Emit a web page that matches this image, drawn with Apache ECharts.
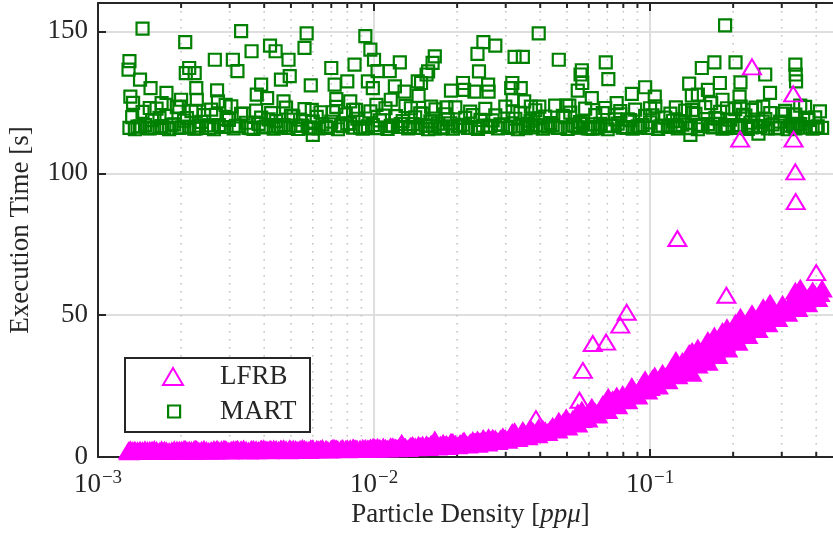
<!DOCTYPE html>
<html>
<head>
<meta charset="utf-8">
<script src="https://cdn.jsdelivr.net/npm/echarts@6/dist/echarts.min.js"></script>
<style>
  html, body { margin: 0; padding: 0; background: #fff; }
  #main { width: 833px; height: 533px; }
</style>
</head>
<body>
<div id="main"></div>
<script>
// regular density sweep (both methods run at these densities)
var densityA = [
  0.0013, 0.00136, 0.00142, 0.00148, 0.00154, 0.0016, 0.00167, 0.00174, 0.00181, 0.00189,
  0.00197, 0.00205, 0.00214, 0.00223, 0.00232, 0.00242, 0.00252, 0.00263, 0.00274, 0.00286,
  0.00298, 0.0031, 0.00323, 0.00337, 0.00351, 0.00366, 0.00382, 0.00398, 0.00415, 0.00433,
  0.00451, 0.0047, 0.0049, 0.0051, 0.0053, 0.0055, 0.0058, 0.006, 0.0063, 0.0065,
  0.0068, 0.0071, 0.0074, 0.0077, 0.008, 0.0084, 0.0087, 0.0091, 0.0095, 0.0099,
  0.0103, 0.0108, 0.0112, 0.0117, 0.0122, 0.0127, 0.0133, 0.0138, 0.0144, 0.015,
  0.0157, 0.0163, 0.017, 0.0178, 0.0185, 0.0193, 0.0201, 0.021, 0.0219, 0.0228,
  0.0238, 0.0248, 0.0258, 0.0269, 0.0281, 0.0293, 0.0305, 0.0318, 0.0332, 0.0346,
  0.0361, 0.0376, 0.0392, 0.0409, 0.0426, 0.0444, 0.0463, 0.0483, 0.0503, 0.0525,
  0.0547, 0.057, 0.0595, 0.062, 0.0646, 0.0674, 0.0702, 0.0732, 0.0763, 0.0796,
  0.083, 0.0865, 0.0902, 0.094, 0.098, 0.102, 0.107, 0.111, 0.116, 0.121,
  0.126, 0.131, 0.137, 0.143, 0.149, 0.155, 0.162, 0.169, 0.176, 0.183,
  0.191, 0.199, 0.208, 0.217, 0.226, 0.236, 0.246, 0.256, 0.267, 0.278,
  0.29, 0.302, 0.315, 0.329, 0.343, 0.357, 0.372, 0.388, 0.405, 0.42
];
var lfrbA = [
  2.0, 2.4, 1.9, 2.5, 2.1, 2.6, 2.0, 2.4, 1.9, 2.5,
  2.2, 2.7, 2.0, 2.6, 2.1, 2.7, 2.0, 2.6, 2.2, 2.8,
  2.1, 2.6, 2.3, 2.8, 2.1, 2.7, 2.3, 2.9, 2.2, 2.8,
  2.4, 2.9, 2.2, 2.8, 2.4, 3.0, 2.3, 2.9, 2.5, 3.0,
  2.4, 3.1, 2.6, 3.0, 2.5, 3.2, 2.6, 3.1, 2.7, 3.3,
  2.7, 3.5, 2.8, 3.6, 2.9, 3.8, 3.0, 4.0, 3.2, 4.2,
  3.3, 4.5, 3.5, 4.8, 3.7, 5.1, 3.9, 5.4, 4.2, 5.8,
  4.5, 6.2, 4.9, 6.6, 5.4, 7.1, 5.9, 7.6, 6.5, 8.3,
  7.1, 9.0, 7.8, 9.8, 8.6, 10.8, 9.5, 12.0, 10.5, 13.3,
  11.6, 15.0, 13.4, 16.8, 14.8, 18.5, 16.4, 20.2, 18.0, 22.0,
  19.8, 23.8, 21.5, 25.8, 23.2, 27.6, 25.0, 29.5, 26.8, 31.6,
  28.6, 33.6, 30.5, 35.8, 32.4, 37.0, 33.4, 39.4, 35.7, 41.8,
  38.0, 44.0, 40.4, 46.3, 42.8, 48.3, 44.9, 50.2, 46.9, 52.0,
  48.8, 53.8, 50.6, 55.5, 52.3, 57.0, 54.0, 58.5, 55.8, 59.2
];
var martA = [
  116, 115.5, 116.5, 117, 115.8, 116.2, 119.5, 116, 115.5, 117.2,
  116, 118.5, 116.4, 115.7, 116.8, 120.5, 116, 115.5, 117, 116.3,
  118.8, 115.8, 116.6, 121, 116, 115.6, 117.4, 116.2, 119, 115.7,
  116.5, 117, 116, 120, 115.6, 116.8, 116.2, 118.2, 115.8, 117.2,
  116, 121.5, 115.5, 116.6, 117.6, 116.1, 119.2, 115.7, 116.5, 117,
  116, 120.3, 115.6, 116.9, 116.3, 118.4, 115.8, 117.3, 116, 121,
  115.5, 116.7, 117.5, 116.2, 119, 115.7, 116.6, 117.1, 116, 120.5,
  115.6, 116.8, 116.3, 118.6, 115.8, 117, 116, 121.8, 115.5, 116.6,
  117.4, 116.2, 119.3, 115.7, 116.4, 117, 116, 120.2, 115.6, 116.9,
  116.2, 118.3, 115.8, 117.2, 116, 121.2, 115.5, 116.7, 117.5, 116.1,
  119, 115.7, 116.5, 117, 116, 120.4, 115.6, 116.8, 116.3, 118.5,
  115.8, 117.1, 116, 121.3, 115.5, 116.6, 117.3, 116.2, 119.2, 115.7,
  116.5, 117, 116, 120.6, 115.6, 116.8, 116.3, 118.2, 115.8, 117.2,
  116, 121, 115.5, 116.7, 117.4, 116.1, 119.4, 115.7, 116.5, 116
];

// second pass of the sweep, between the first-pass densities
var densityD = [
  0.00133, 0.00139, 0.00145, 0.00151, 0.00157, 0.00163, 0.0017, 0.00177, 0.00185, 0.00193,
  0.00201, 0.0021, 0.00218, 0.00227, 0.00237, 0.00247, 0.00257, 0.00268, 0.0028, 0.00292,
  0.00304, 0.00316, 0.0033, 0.00344, 0.00358, 0.00374, 0.0039, 0.00406, 0.00424, 0.00442,
  0.0046, 0.0048, 0.005, 0.0052, 0.0054, 0.0056, 0.0059, 0.0062, 0.0064, 0.0067,
  0.007, 0.0073, 0.0076, 0.0079, 0.0082, 0.0086, 0.0089, 0.0093, 0.0097, 0.0101,
  0.0105, 0.011, 0.0115, 0.012, 0.0125, 0.013, 0.0135, 0.0141, 0.0147, 0.0154,
  0.016, 0.0167, 0.0174, 0.0181, 0.0189, 0.0197, 0.0205, 0.0214, 0.0223, 0.0233,
  0.0243, 0.0253, 0.0264, 0.0275, 0.0287, 0.0299, 0.0312, 0.0325, 0.0339, 0.0354,
  0.0369, 0.0384, 0.04, 0.0417, 0.0435, 0.0453, 0.0473, 0.0493, 0.0514, 0.0536,
  0.0558, 0.0582, 0.0607, 0.0633, 0.066, 0.0688, 0.0717, 0.0748, 0.078, 0.0813,
  0.0847, 0.0883, 0.0921, 0.096, 0.1, 0.1045, 0.109, 0.1135, 0.1185, 0.1235,
  0.1285, 0.134, 0.14, 0.146, 0.152, 0.1585, 0.1655, 0.1725, 0.1795, 0.187,
  0.195, 0.2035, 0.2125, 0.2215, 0.231, 0.241, 0.251, 0.2615, 0.2725, 0.284,
  0.296, 0.3085, 0.322, 0.336, 0.35, 0.3645, 0.38, 0.3965, 0.4125
];
var lfrbD = [
  2.2, 2.2, 2.2, 2.3, 2.4, 2.3, 2.2, 2.1, 2.2, 2.4,
  2.4, 2.3, 2.3, 2.4, 2.4, 2.3, 2.3, 2.4, 2.5, 2.4,
  2.4, 2.5, 2.5, 2.4, 2.4, 2.5, 2.6, 2.5, 2.5, 2.6,
  2.6, 2.5, 2.5, 2.6, 2.7, 2.6, 2.6, 2.7, 2.7, 2.7,
  2.8, 2.8, 2.8, 2.7, 2.9, 2.9, 2.8, 2.9, 3.0, 3.0,
  3.1, 3.1, 3.2, 3.2, 3.4, 3.4, 3.5, 3.6, 3.7, 3.8,
  3.9, 4.0, 4.2, 4.2, 4.4, 4.5, 4.7, 4.8, 5.0, 5.2,
  5.3, 5.6, 5.8, 6.0, 6.3, 6.5, 6.8, 7.1, 7.4, 7.7,
  8.1, 8.4, 8.8, 9.2, 9.7, 10.2, 10.8, 11.3, 11.9, 12.5,
  13.3, 14.2, 15.1, 15.8, 16.6, 17.5, 18.3, 19.1, 20.0, 20.9,
  21.8, 22.7, 23.6, 24.5, 25.4, 26.3, 27.3, 28.2, 29.2, 30.1,
  31.1, 32.0, 33.2, 34.1, 34.7, 35.2, 36.4, 37.6, 38.8, 39.9,
  41.0, 42.2, 43.4, 44.5, 45.6, 46.6, 47.6, 48.6, 49.5, 50.4,
  51.3, 52.2, 53.1, 53.9, 54.7, 55.5, 56.3, 57.1, 57.6
];
var martD = [
  119.8, 116.4, 121.6, 115.9, 118.7, 122.8, 116.6, 120.2, 117.1, 123.3,
  116.2, 119.4, 121.9, 115.8, 118.1, 116.9, 122.4, 120.6, 116.3, 119.1,
  123.6, 116.7, 120.9, 117.8, 115.9, 122.1, 119.6, 116.5, 121.2, 118.4,
  116.1, 123.1, 120.3, 116.8, 118.9, 122.6, 115.8, 119.9, 121.5, 116.4,
  118.2, 123.4, 116.9, 120.7, 117.5, 122.3, 116.2, 119.3, 121.8, 115.9,
  118.6, 122.9, 116.6, 120.1, 117.3, 123.7, 116.3, 119.7, 121.1, 116.8,
  118.3, 122.5, 115.8, 120.8, 117.6, 123.2, 116.5, 119.5, 121.7, 116.1,
  118.8, 122.7, 116.7, 120.4, 117.2, 123.5, 116.4, 119.2, 121.3, 115.9,
  118.5, 122.2, 116.9, 120.0, 117.7, 123.8, 116.2, 119.8, 121.4, 116.6,
  118.0, 122.8, 115.8, 120.5, 117.4, 123.0, 116.8, 119.0, 121.9, 116.3,
  118.7, 122.4, 116.1, 120.2, 117.9, 123.6, 116.5, 119.6, 121.0, 116.9,
  118.4, 122.1, 115.9, 120.9, 117.1, 123.3, 116.4, 119.4, 121.6, 116.7,
  118.9, 122.6, 116.2, 120.3, 117.8, 123.1, 116.6, 119.1, 121.2, 115.8,
  118.2, 122.0, 116.8, 120.7, 117.3, 123.4, 116.3, 119.7, 121.8
];

// densities where MART came out slow
var densityB = [
  0.00129, 0.0013, 0.00131, 0.00134, 0.00142, 0.00145, 0.00154, 0.00155, 0.0017, 0.00177,
  0.00197, 0.002, 0.00207, 0.00208, 0.00214, 0.00224, 0.00226, 0.00227, 0.00228, 0.00265,
  0.0027, 0.00272, 0.0029, 0.00308, 0.0032, 0.0033, 0.0036, 0.00376, 0.0039, 0.0041,
  0.0042, 0.0044, 0.0046, 0.0047, 0.0049, 0.00495, 0.0056, 0.0057, 0.0059, 0.00595,
  0.006, 0.007, 0.0072, 0.0073, 0.008, 0.0082, 0.0084, 0.0085, 0.0093, 0.0095,
  0.0097, 0.0099, 0.01, 0.0102, 0.0103, 0.0114, 0.0115, 0.0119, 0.0124, 0.0129,
  0.0136, 0.0144, 0.0145, 0.0148, 0.0155, 0.0157, 0.0161, 0.0163, 0.0166, 0.0183,
  0.019, 0.021, 0.0212, 0.0231, 0.0237, 0.024, 0.0249, 0.0259, 0.026, 0.0275,
  0.0314, 0.0317, 0.0318, 0.0323, 0.034, 0.0346, 0.035, 0.037, 0.0395, 0.0397,
  0.0467, 0.0497, 0.051, 0.0547, 0.056, 0.0566, 0.0568, 0.0615, 0.0691, 0.0706,
  0.0757, 0.0859, 0.096, 0.1, 0.104, 0.124, 0.1386, 0.14, 0.1417, 0.142,
  0.149, 0.154, 0.162, 0.1665, 0.171, 0.179, 0.183, 0.187, 0.19, 0.204,
  0.211, 0.2126, 0.213, 0.234, 0.247, 0.257, 0.2613, 0.272, 0.336, 0.337,
  0.338, 0.35, 0.375
];
var martB = [
  136.5, 139.5, 127, 124.8, 133, 151, 123, 130, 124.7, 128.3,
  123.5, 125.9, 146.2, 135.3, 137.1, 135.3, 122, 130, 125.9, 140,
  129.2, 125.3, 124.1, 140, 136, 150.1, 143, 127.7, 131.2, 126.5,
  145, 143, 133, 125.3, 140, 134.2, 144.2, 149.3, 131, 122.3,
  113.5, 137.1, 131.2, 126.1, 132.4, 125.3, 122.3, 138.3, 148.3, 132.4,
  143.6, 130, 140, 124.1, 136, 136, 125.9, 130.6, 139.1, 128.8,
  122.9, 132.4, 127.3, 131.8, 134.8, 135.9, 123.5, 138.9, 141.2, 123.2,
  129.1, 131.8, 129.4, 128.8, 142.1, 135.9, 146.2, 131.2, 128.8, 145,
  130, 131.8, 125.9, 141, 130, 141, 125.3, 123.5, 149.3, 123.5,
  140, 123.8, 123.8, 129.1, 134.8, 136.3, 131.8, 126.5, 139.1, 133.2,
  124.7, 128, 130.3, 122.9, 127, 123.2, 131.6, 113.5, 127.4, 122.3,
  127.7, 137.1, 129.4, 124.7, 139.1, 131.8, 125.9, 152.1, 122.9, 139.1,
  127, 132, 123.5, 122.3, 114, 123.5, 134.8, 128.3, 138.3, 134.8,
  132.4, 123.8, 118.8
];
var lfrbB = [
  2.2, 1.8, 2.5, 2.1, 2.4, 1.9, 2.3, 2.0, 2.5, 2.1,
  2.4, 2.0, 2.6, 2.2, 2.4, 2.0, 2.7, 2.3, 2.5, 2.1,
  2.7, 2.3, 2.5, 2.2, 2.7, 2.4, 2.6, 2.2, 2.8, 2.4,
  2.7, 2.3, 2.8, 2.5, 2.3, 2.9, 2.6, 2.4, 2.9, 2.5,
  2.7, 2.5, 3.0, 2.7, 2.9, 2.6, 3.1, 2.7, 3.0, 2.8,
  3.2, 2.9, 3.3, 2.9, 3.4, 3.1, 3.6, 3.2, 3.7, 3.3,
  3.8, 3.5, 4.1, 3.6, 4.3, 3.8, 4.5, 4.0, 4.7, 4.4,
  5.2, 4.6, 5.6, 5.2, 6.0, 5.4, 6.5, 5.8, 6.8, 6.3,
  7.8, 8.6, 7.2, 8.9, 7.9, 9.3, 8.4, 9.8, 10.3, 9.2,
  12.6, 13.8, 12.2, 15.6, 14.0, 16.5, 13.2, 17.5, 19.5, 21.0,
  21.5, 24.8, 27.2, 24.5, 28.5, 34.0, 36.5, 33.0, 29.5, 37.2,
  38.4, 34.8, 41.0, 36.5, 42.6, 38.2, 44.2, 40.0, 45.5, 47.2,
  43.0, 49.2, 45.0, 50.5, 47.5, 52.6, 49.0, 54.2, 58.4, 53.5,
  56.8, 59.5, 56.3
];

// densities where LFRB came out slow
var densityC = [0.0126, 0.0166, 0.0386, 0.0555, 0.0571, 0.062, 0.0693, 0.078, 0.0823,
  0.1256, 0.189, 0.212, 0.234, 0.33, 0.331, 0.336, 0.337, 0.4];
var lfrbC = [4.8, 6, 13.5, 20, 30.5, 40, 40.5, 46.5, 51,
  77, 57, 112, 137.5, 128, 112, 100.5, 90, 65];
var martC = [116.3, 115.8, 116.9, 116.1, 117.3, 115.7, 116.6, 120.8, 116,
  116.4, 115.9, 117, 116.2, 120.7, 116.5, 115.8, 117.1, 116.3];

var minorTicks = [0.002, 0.003, 0.004, 0.005, 0.006, 0.007, 0.008, 0.009,
  0.02, 0.03, 0.04, 0.05, 0.06, 0.07, 0.08, 0.09, 0.2, 0.3, 0.4];

function pairs(xs, ys) {
  var out = [];
  for (var i = 0; i < xs.length; i++) out.push([xs[i], ys[i]]);
  return out;
}

var FONT = 'Liberation Serif';
var INK = '#262626';
var MAG = '#ff00ff';
var GRN = '#008000';

var chart = echarts.init(document.getElementById('main'), null, { renderer: 'canvas' });

var option = {
  animation: false,
  backgroundColor: '#fff',
  textStyle: { fontFamily: FONT, color: INK },
  grid: { left: 98, top: 3, width: 745, height: 454, outerBoundsMode: 'none', containLabel: false },
  xAxis: [{
    type: 'log', logBase: 10, min: 0.001, max: 0.5, position: 'bottom',
    axisLine: { show: true, onZero: false, lineStyle: { color: INK, width: 2 } },
    axisTick: { show: true, inside: true, length: 8, lineStyle: { color: INK, width: 2 } },
    axisLabel: {
      margin: 12, showMaxLabel: false, color: INK,
      formatter: function (v) {
        var e = Math.round(Math.log(v) / Math.LN10);
        return '{b|10}{e|' + (e < 0 ? '\u2212' : '') + Math.abs(e) + '}';
      },
      rich: {
        b: { fontFamily: FONT, fontSize: 27, color: INK },
        e: { fontFamily: FONT, fontSize: 19, color: INK, padding: [0, 0, 13, 1] }
      }
    },
    splitLine: { show: true, lineStyle: { color: '#dedede', width: 2 } },
    name: 'Particle Density [{i|pp\u03bc}]',
    nameLocation: 'middle', nameGap: 44, nameMoveOverlap: false,
    nameTextStyle: {
      fontFamily: FONT, fontSize: 27, color: INK,
      rich: { i: { fontFamily: FONT, fontSize: 27, fontStyle: 'italic', color: INK } }
    }
  }, {
    type: 'log', logBase: 10, min: 0.001, max: 0.5, position: 'top',
    axisLine: { show: true, onZero: false, lineStyle: { color: INK, width: 2 } },
    axisTick: { show: true, inside: true, length: 8, lineStyle: { color: INK, width: 2 } },
    axisLabel: { show: false },
    splitLine: { show: false }
  }],
  yAxis: {
    type: 'value', min: 0, max: 160, interval: 50,
    axisLine: { show: true, onZero: false, lineStyle: { color: INK, width: 2 } },
    axisTick: { show: true, inside: true, length: 8, lineStyle: { color: INK, width: 2 } },
    axisLabel: { margin: 10, showMaxLabel: false, fontFamily: FONT, fontSize: 27, color: INK },
    splitLine: { show: true, lineStyle: { color: '#dedede', width: 2 } },
    name: 'Execution Time [s]',
    nameLocation: 'middle', nameGap: 64, nameMoveOverlap: false,
    nameTextStyle: { fontFamily: FONT, fontSize: 27, color: INK }
  },
  legend: [{
    data: ['LFRB'], left: 162, top: 363, orient: 'vertical', padding: 0,
    itemWidth: 20, itemHeight: 17, selectedMode: false, z: 60,
    textStyle: { fontFamily: FONT, fontSize: 27, color: INK, padding: [0, 0, 0, 32] },
    itemStyle: { color: 'rgba(0,0,0,0)', borderColor: MAG, borderWidth: 2, opacity: 1 }
  }, {
    data: ['MART'], left: 167, top: 398, orient: 'vertical', padding: 0,
    itemWidth: 12, itemHeight: 12, selectedMode: false, z: 60,
    textStyle: { fontFamily: FONT, fontSize: 27, color: INK, padding: [0, 0, 0, 35] },
    itemStyle: { color: 'rgba(0,0,0,0)', borderColor: GRN, borderWidth: 2.2, opacity: 1 }
  }],
  graphic: [{
    type: 'rect', z: 50,
    shape: { x: 125, y: 358, width: 185, height: 74 },
    style: { fill: '#fff', stroke: INK, lineWidth: 2 }
  }],
  series: [{
    // dotted minor grid + minor ticks on the log axis
    type: 'custom', xAxisIndex: 0, silent: true, z: 1,
    data: minorTicks.map(function (v) { return [v, 0]; }),
    renderItem: function (params, api) {
      var x = api.coord([api.value(0), 0])[0];
      var cs = params.coordSys;
      var y0 = cs.y, y1 = cs.y + cs.height;
      return {
        type: 'group',
        children: [
          { type: 'line', shape: { x1: x, y1: y0, x2: x, y2: y1 },
            style: { stroke: '#c4c4c4', lineWidth: 1.6, lineDash: [1.6, 6.4] } },
          { type: 'line', shape: { x1: x, y1: y1, x2: x, y2: y1 - 5 },
            style: { stroke: INK, lineWidth: 2 } },
          { type: 'line', shape: { x1: x, y1: y0, x2: x, y2: y0 + 5 },
            style: { stroke: INK, lineWidth: 2 } }
        ]
      };
    }
  }, {
    // the dense sweep overlaps into a solid band
    name: 'LFRB', type: 'scatter', symbol: 'triangle', symbolSize: [18, 15], z: 4, silent: true,
    itemStyle: { color: MAG, borderColor: MAG, borderWidth: 2, opacity: 1 },
    data: pairs(densityA, lfrbA).concat(pairs(densityD, lfrbD), pairs(densityB, lfrbB))
  }, {
    name: 'LFRB', type: 'scatter', symbol: 'triangle', symbolSize: [18, 15], z: 5, silent: true,
    itemStyle: { color: 'rgba(0,0,0,0)', borderColor: MAG, borderWidth: 2, opacity: 1 },
    data: pairs(densityC, lfrbC)
  }, {
    name: 'MART', type: 'scatter', symbol: 'rect', symbolSize: 12, z: 3, silent: true,
    itemStyle: { color: 'rgba(0,0,0,0)', borderColor: GRN, borderWidth: 2.2, opacity: 1 },
    data: pairs(densityA, martA).concat(pairs(densityD, martD), pairs(densityB, martB), pairs(densityC, martC))
  }]
};

chart.setOption(option);
</script>
</body>
</html>
